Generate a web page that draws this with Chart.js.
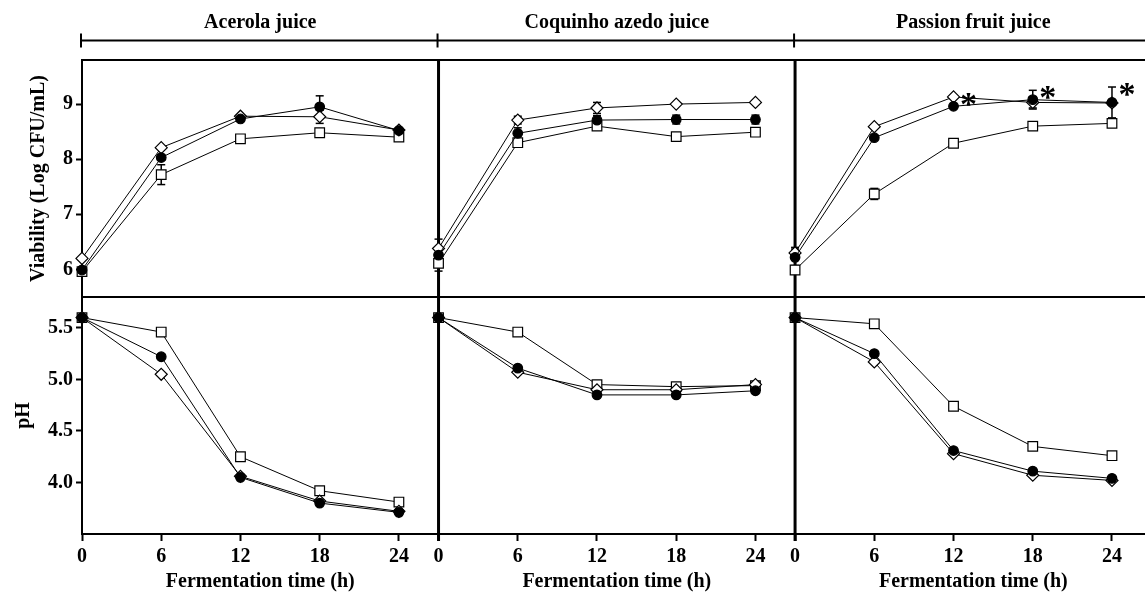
<!DOCTYPE html>
<html>
<head>
<meta charset="utf-8">
<title>Viability and pH during fermentation</title>
<script src="https://cdn.jsdelivr.net/npm/chart.js@4.4.0/dist/chart.umd.min.js"></script>
<style>
  html, body { margin: 0; padding: 0; background: #fff; }
  #wrap { position: relative; width: 1145px; height: 593px; }
</style>
</head>
<body>
<div id="wrap"><canvas id="chartjs-0" width="1145" height="593"></canvas></div>
<script>
"use strict";

// ---- data ----
var hours = [0, 6, 12, 18, 24];
var juices = ["Acerola juice", "Coquinho azedo juice", "Passion fruit juice"];
var xTitle = "Fermentation time (h)";
var viabilityTicks = [6, 7, 8, 9];
var phTicks = [4.0, 4.5, 5.0, 5.5];

// viability (log CFU/mL), one array per juice
var viaSquare  = [[5.96, 7.72, 8.37, 8.48, 8.40], [6.11, 8.30, 8.60, 8.41, 8.49], [5.99, 7.37, 8.29, 8.60, 8.65]];
var viaCircle  = [[5.99, 8.03, 8.73, 8.95, 8.52], [6.26, 8.47, 8.71, 8.72, 8.72], [6.22, 8.39, 8.96, 9.08, 9.03]];
var viaDiamond = [[6.20, 8.21, 8.78, 8.77, 8.53], [6.38, 8.71, 8.93, 9.00, 9.03], [6.30, 8.59, 9.13, 9.03, 9.02]];

// standard deviations (0 = bar hidden behind the marker)
var errSquare  = [[0.06, 0.18, 0, 0, 0], [0.14, 0, 0.03, 0, 0], [0.04, 0.10, 0, 0.07, 0]];
var errCircle  = [[0.05, 0.05, 0, 0.20, 0], [0.10, 0.10, 0.08, 0.08, 0.08], [0.15, 0, 0, 0.17, 0.28]];
var errDiamond = [[0, 0, 0, 0.12, 0], [0.17, 0.07, 0.10, 0, 0], [0.10, 0, 0, 0.10, 0]];

// pH
var phSquare  = [[5.60, 5.46, 4.25, 3.92, 3.81], [5.60, 5.46, 4.95, 4.93, 4.94], [5.60, 5.54, 4.74, 4.35, 4.26]];
var phCircle  = [[5.60, 5.22, 4.05, 3.80, 3.71], [5.60, 5.11, 4.85, 4.85, 4.89], [5.60, 5.25, 4.31, 4.11, 4.04]];
var phDiamond = [[5.60, 5.05, 4.06, 3.82, 3.72], [5.60, 5.07, 4.90, 4.90, 4.95], [5.60, 5.17, 4.28, 4.07, 4.02]];

// significance marks (passion fruit, viability)
var starJuice = 2;
var starHours = [12, 18, 24];

// each juice panel gets its own stretch of the x scale
var panelWidth = 27;
var xMax = 80.5;

var FONT = "Liberation Serif";

function points(vals, p) {
  return hours.map(function (h, i) {
    return { x: h + p * panelWidth, y: vals[i] };
  });
}

var styles = {
  circle:  { pointStyle: "circle",  radius: 4.8, fill: "#000" },
  diamond: { pointStyle: "rectRot", radius: 6.0, fill: "#fff" },
  square:  { pointStyle: "rect",    radius: 6.8, fill: "#fff" }
};

function makeSet(label, vals, p, axis, st) {
  return {
    label: label,
    data: points(vals, p),
    yAxisID: axis,
    borderColor: "#000",
    borderWidth: 1,
    pointStyle: st.pointStyle,
    pointRadius: st.radius,
    pointBackgroundColor: st.fill,
    pointBorderColor: "#000",
    pointBorderWidth: 1.2,
    tension: 0,
    clip: false
  };
}

// circle first so it is drawn on top
var datasets = [];
for (var p = 0; p < juices.length; p++) {
  datasets.push(makeSet("circle " + juices[p], viaCircle[p], p, "yv", styles.circle));
  datasets.push(makeSet("diamond " + juices[p], viaDiamond[p], p, "yv", styles.diamond));
  datasets.push(makeSet("square " + juices[p], viaSquare[p], p, "yv", styles.square));
  datasets.push(makeSet("circle pH " + juices[p], phCircle[p], p, "yp", styles.circle));
  datasets.push(makeSet("diamond pH " + juices[p], phDiamond[p], p, "yp", styles.diamond));
  datasets.push(makeSet("square pH " + juices[p], phSquare[p], p, "yp", styles.square));
}

var xTickValues = [];
var xTickLabels = [];
for (var q = 0; q < juices.length; q++) {
  hours.forEach(function (h) {
    xTickValues.push(h + q * panelWidth);
    xTickLabels.push(String(h));
  });
}

function line(ctx, x1, y1, x2, y2) {
  ctx.beginPath();
  ctx.moveTo(x1, y1);
  ctx.lineTo(x2, y2);
  ctx.stroke();
}

var framePlugin = {
  id: "frame",
  beforeDatasetsDraw: function (chart) {
    var ctx = chart.ctx;
    var xs = chart.scales.x, yv = chart.scales.yv, yp = chart.scales.yp;
    ctx.save();
    ctx.strokeStyle = "#000";

    // top border and the line between the rows
    ctx.lineWidth = 2;
    line(ctx, xs.left, yv.top, chart.width, yv.top);
    line(ctx, xs.left, yv.bottom, chart.width, yv.bottom);

    // vertical dividers between juices
    ctx.lineWidth = 3;
    for (var p = 1; p < juices.length; p++) {
      var px = xs.getPixelForValue(p * panelWidth);
      line(ctx, px, yv.top, px, yp.bottom + 7);
    }

    // error bars
    ctx.lineWidth = 1.5;
    var groups = [[viaCircle, errCircle], [viaDiamond, errDiamond], [viaSquare, errSquare]];
    groups.forEach(function (g) {
      for (var p = 0; p < juices.length; p++) {
        hours.forEach(function (h, i) {
          var e = g[1][p][i];
          if (!e) return;
          var v = g[0][p][i];
          var x = xs.getPixelForValue(h + p * panelWidth);
          var yTop = yv.getPixelForValue(v + e);
          var yBot = yv.getPixelForValue(v - e);
          line(ctx, x, yTop, x, yBot);
          line(ctx, x - 4, yTop, x + 4, yTop);
          line(ctx, x - 4, yBot, x + 4, yBot);
        });
      }
    });
    ctx.restore();
  },
  afterDraw: function (chart) {
    var ctx = chart.ctx;
    var xs = chart.scales.x, yv = chart.scales.yv;
    ctx.save();
    ctx.fillStyle = "#000";
    ctx.strokeStyle = "#000";

    // bracket with the juice names
    var by = yv.top - 19.5;
    ctx.lineWidth = 2;
    line(ctx, xs.getPixelForValue(0) - 1, by, chart.width, by);
    for (var p = 0; p < juices.length; p++) {
      var tx = xs.getPixelForValue(p * panelWidth) - 1;
      line(ctx, tx, by - 7, tx, by + 7);
    }
    ctx.font = "bold 20px " + FONT;
    ctx.textAlign = "center";
    ctx.textBaseline = "middle";
    for (p = 0; p < juices.length; p++) {
      var cx = xs.getPixelForValue(p * panelWidth + 13.5);
      ctx.fillText(juices[p], cx, 23);
      ctx.fillText(xTitle, cx, chart.height - 11);
    }

    // asterisks
    ctx.font = "bold 34px " + FONT;
    ctx.textBaseline = "alphabetic";
    starHours.forEach(function (h) {
      var i = hours.indexOf(h);
      var top = Math.max(
        viaCircle[starJuice][i] + errCircle[starJuice][i],
        viaDiamond[starJuice][i] + errDiamond[starJuice][i]
      );
      var x = xs.getPixelForValue(h + starJuice * panelWidth) + 15;
      var y = yv.getPixelForValue(top) + 2;
      ctx.fillText("*", x, y + 16);
    });
    ctx.restore();
  }
};

var tickFont = { family: FONT, size: 20, weight: "bold" };

var ctx0 = document.getElementById("chartjs-0");
var myChart = new Chart(ctx0, {
  type: "line",
  data: { datasets: datasets },
  options: {
    responsive: false,
    animation: false,
    layout: { autoPadding: false, padding: { top: 60, left: 0, right: 0, bottom: 0 } },
    plugins: { legend: { display: false }, tooltip: { enabled: false } },
    scales: {
      x: {
        type: "linear",
        position: "bottom",
        min: 0,
        max: xMax,
        afterBuildTicks: function (scale) {
          scale.ticks = xTickValues.map(function (v) { return { value: v }; });
        },
        afterFit: function (scale) {
          scale.height = 59;
          scale.paddingLeft = 0;
          scale.paddingRight = 0;
        },
        ticks: {
          autoSkip: false,
          maxRotation: 0,
          padding: 4,
          color: "#000",
          font: tickFont,
          callback: function (value, index) { return xTickLabels[index]; }
        },
        grid: { drawOnChartArea: false, drawTicks: true, tickLength: 7, tickWidth: 2, tickColor: "#000" },
        border: { display: true, color: "#000", width: 2 }
      },
      yv: {
        type: "linear",
        position: "left",
        stack: "rows",
        stackWeight: 1,
        weight: 2,
        min: 5.5,
        max: 9.8,
        afterBuildTicks: function (scale) {
          scale.ticks = viabilityTicks.map(function (v) { return { value: v }; });
        },
        afterFit: function (scale) { scale.width = 82; },
        ticks: { color: "#000", font: tickFont, padding: 3 },
        grid: { drawOnChartArea: false, drawTicks: true, tickLength: 6, tickWidth: 2, tickColor: "#000" },
        border: { display: true, color: "#000", width: 2 },
        title: { display: true, text: "Viability (Log CFU/mL)", color: "#000", font: tickFont, padding: { top: 26.5, bottom: 0 } }
      },
      yp: {
        type: "linear",
        position: "left",
        stack: "rows",
        stackWeight: 1,
        weight: 1,
        min: 3.5,
        max: 5.8,
        afterBuildTicks: function (scale) {
          scale.ticks = phTicks.map(function (v) { return { value: v }; });
        },
        afterFit: function (scale) { scale.width = 82; },
        ticks: {
          color: "#000",
          font: tickFont,
          padding: 3,
          callback: function (v) { return Number(v).toFixed(1); }
        },
        grid: { drawOnChartArea: false, drawTicks: true, tickLength: 6, tickWidth: 2, tickColor: "#000" },
        border: { display: true, color: "#000", width: 2 },
        title: { display: true, text: "pH", color: "#000", font: tickFont, padding: { top: 11.5, bottom: 0 } }
      }
    }
  },
  plugins: [framePlugin]
});
</script>
</body>
</html>
